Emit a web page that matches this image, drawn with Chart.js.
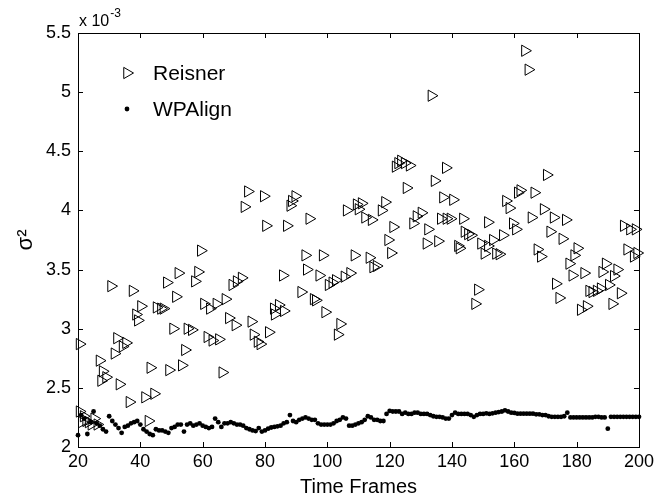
<!DOCTYPE html>
<html>
<head>
<meta charset="utf-8">
<script src="https://cdn.jsdelivr.net/npm/chart.js@4.4.1/dist/chart.umd.min.js"></script>
<style>
  html, body { margin: 0; padding: 0; background: #fff; }
  #wrap { width: 658px; height: 495px; }
</style>
</head>
<body>
<div id="wrap"><canvas id="chart" width="658" height="495"></canvas></div>
<script>
// Reisner variance per frame (units of 1e-3)
const reisnerX = [
  20.5, 20.5, 21.2, 21.8, 22.6, 23.4, 24.3, 25.2, 26.2, 26.9,
  27.4, 27.9, 29.0, 30.6, 31.7, 32.5, 33.3, 34.3, 35.4, 36.5,
  37.5, 38.6, 39.2, 40.2, 41.5, 42.6, 43.2, 44.4, 45.2, 46.6,
  47.4, 48.5, 49.2, 50.5, 51.4, 52.2, 53.3, 54.3, 55.1, 56.5,
  57.5, 58.5, 59.4, 60.4, 61.5, 62.3, 63.1, 64.4, 65.2, 66.3,
  67.3, 68.4, 69.5, 70.5, 70.9, 72.5, 73.4, 74.5, 75.6, 76.3,
  77.6, 78.5, 79.6, 80.3, 81.2, 82.8, 83.1, 84.4, 85.7, 86.0,
  87.0, 88.1, 88.6, 89.7, 91.6, 92.9, 93.4, 94.2, 95.6, 96.3,
  97.4, 98.5, 99.3, 100.4, 101.6, 102.7, 103.3, 104.1, 105.5, 106.2,
  107.3, 108.7, 109.4, 110.0, 111.0, 112.1, 113.5, 114.2, 114.7, 115.8,
  117.4, 118.5, 119.5, 120.4, 121.1, 121.9, 122.7, 123.6, 124.8, 125.4,
  126.4, 127.5, 128.6, 130.2, 131.8, 132.3, 133.4, 134.4, 135.5, 136.4,
  137.1, 138.0, 138.2, 139.5, 140.3, 141.9, 142.4, 143.5, 144.0, 145.1,
  146.1, 147.4, 148.3, 149.3, 150.4, 151.5, 151.5, 153.1, 154.1, 155.2,
  156.3, 157.3, 158.4, 159.5, 160.5, 161.1, 161.9, 163.4, 164.5, 165.5,
  166.4, 167.4, 168.5, 169.4, 170.4, 171.5, 172.6, 173.3, 174.4, 175.4,
  176.5, 177.6, 178.6, 179.2, 180.2, 181.3, 182.4, 183.2, 184.0, 185.0,
  186.4, 187.7, 188.2, 189.3, 190.3, 191.4, 191.9, 193.0, 194.1, 195.1,
  196.2, 197.1, 198.3, 198.9, 199.4
]
const reisnerY = [
  2.87, 2.30, 2.21, 2.26, 2.22, 2.21, 2.19, 2.24, 2.19, 2.73,
  2.56, 2.64, 2.59, 3.36, 2.79, 2.92, 2.53, 2.85, 2.88, 2.38,
  3.32, 3.12, 3.07, 3.19, 2.42, 2.22, 2.67, 2.45, 3.18, 3.17,
  3.17, 3.39, 2.65, 3.00, 3.27, 3.47, 2.69, 2.82, 3.00, 2.99,
  3.40, 3.48, 3.66, 3.21, 2.93, 3.17, 2.90, 3.21, 2.91, 2.63,
  3.25, 3.09, 3.37, 3.03, 3.40, 3.43, 4.03, 4.16, 3.06, 2.95,
  2.89, 2.87, 4.12, 3.87, 2.97, 3.17, 3.12, 3.20, 3.45, 3.15,
  3.87, 4.04, 4.08, 4.12, 3.31, 3.62, 3.50, 3.93, 3.25, 3.24,
  3.45, 3.62, 3.14, 3.37, 3.39, 3.41, 2.95, 3.04, 3.44, 4.00,
  3.47, 3.62, 4.05, 4.01, 4.06, 3.94, 3.60, 3.92, 3.52, 3.53,
  4.00, 4.07, 3.75, 3.64, 3.86, 4.37, 4.40, 4.42, 4.40, 4.19,
  4.38, 3.89, 3.95, 3.98, 3.72, 3.84, 4.97, 4.25, 3.74, 3.93,
  4.11, 4.36, 3.93, 3.93, 4.09, 3.70, 3.68, 3.93, 3.82, 3.80,
  3.79, 3.21, 3.33, 3.72, 3.635, 3.90, 3.70, 3.75, 3.635, 3.63,
  3.79, 4.08, 4.02, 3.89, 3.84, 4.15, 4.17, 5.35, 5.19, 3.94,
  4.15, 3.67, 3.61, 4.01, 4.30, 3.82, 3.94, 3.38, 3.26, 3.76,
  3.92, 3.55, 3.45, 3.62, 3.68, 3.16, 3.47, 3.19, 3.32, 3.31,
  3.32, 3.34, 3.48, 3.55, 3.37, 3.21, 3.445, 3.50, 3.30, 3.87,
  3.67, 3.84, 3.61, 3.84, 3.64
]

// WPAlign variance, one value per frame from 20 to 200
const firstFrame = 20
const wpAlignY = [
  2.10, 2.27, 2.24, 2.11, 2.21, 2.30, 2.20, 2.18, 2.15, 2.13,
  2.26, 2.22, 2.19, 2.16, 2.12, 2.17, 2.18, 2.20, 2.21, 2.22,
  2.19, 2.15, 2.13, 2.11, 2.10, 2.15, 2.14, 2.14, 2.13, 2.12,
  2.16, 2.17, 2.19, 2.19, 2.13, 2.19, 2.20, 2.18, 2.19, 2.20,
  2.18, 2.17, 2.16, 2.17, 2.24, 2.21, 2.17, 2.20, 2.20, 2.21,
  2.20, 2.19, 2.19, 2.18, 2.16, 2.15, 2.14, 2.135, 2.16, 2.13,
  2.14, 2.155, 2.165, 2.17, 2.175, 2.18, 2.20, 2.21, 2.27, 2.22,
  2.21, 2.23, 2.24, 2.25, 2.24, 2.23, 2.23, 2.20, 2.19, 2.19,
  2.19, 2.19, 2.20, 2.22, 2.23, 2.25, 2.24, 2.18, 2.18, 2.19,
  2.20, 2.21, 2.23, 2.26, 2.25, 2.23, 2.23, 2.22, 2.22, 2.28,
  2.305, 2.30, 2.30, 2.30, 2.28, 2.29, 2.28, 2.28, 2.29, 2.29,
  2.28, 2.28, 2.28, 2.27, 2.26, 2.255, 2.255, 2.25, 2.24, 2.24,
  2.27, 2.29, 2.28, 2.28, 2.28, 2.28, 2.27, 2.255, 2.27, 2.28,
  2.28, 2.285, 2.28, 2.285, 2.29, 2.295, 2.30, 2.31, 2.30, 2.29,
  2.288, 2.282, 2.282, 2.282, 2.282, 2.282, 2.282, 2.276, 2.276, 2.27,
  2.27, 2.26, 2.255, 2.255, 2.255, 2.255, 2.26, 2.29, 2.25, 2.25,
  2.25, 2.25, 2.25, 2.25, 2.25, 2.25, 2.255, 2.255, 2.25, 2.25,
  2.155, 2.255, 2.255, 2.255, 2.255, 2.255, 2.255, 2.255, 2.255, 2.255,
  2.255
]

const xTicks = [20, 40, 60, 80, 100, 120, 140, 160, 180, 200]
const yTicks = [2, 2.5, 3, 3.5, 4, 4.5, 5, 5.5]

const FONT = "'Liberation Sans', Arial, Helvetica, sans-serif"

const reisnerPts = reisnerX.map((x, i) => ({ x: x, y: reisnerY[i] }))
const wpPts = wpAlignY.map((y, i) => ({ x: firstFrame + i, y: y }))

// box, inward tick marks, exponent and legend (matlab look)
const matlabAxes = {
  id: "matlabAxes",
  afterDraw(chart) {
    const ctx = chart.ctx
    const a = chart.chartArea
    const xs = chart.scales.x
    const ys = chart.scales.y
    const tl = 5
    ctx.save()
    ctx.strokeStyle = "#000"
    ctx.lineWidth = 1
    ctx.strokeRect(Math.round(a.left) + 0.5, Math.round(a.top) + 0.5,
      Math.round(a.right - a.left), Math.round(a.bottom - a.top))
    ctx.beginPath()
    for (const v of xTicks) {
      const px = Math.round(xs.getPixelForValue(v)) + 0.5
      ctx.moveTo(px, a.bottom); ctx.lineTo(px, a.bottom - tl)
      ctx.moveTo(px, a.top); ctx.lineTo(px, a.top + tl)
    }
    for (const v of yTicks) {
      const py = Math.round(ys.getPixelForValue(v)) + 0.5
      ctx.moveTo(a.left, py); ctx.lineTo(a.left + tl, py)
      ctx.moveTo(a.right, py); ctx.lineTo(a.right - tl, py)
    }
    ctx.stroke()

    // exponent label
    ctx.fillStyle = "#000"
    ctx.textBaseline = "alphabetic"
    ctx.textAlign = "left"
    ctx.font = "16px " + FONT
    ctx.fillText("x 10", a.left + 1, 26)
    const w = ctx.measureText("x 10").width
    ctx.font = "12px " + FONT
    ctx.fillText("-3", a.left + 2 + w, 17)

    // legend
    const items = chart.data.datasets
    const lx = 127, ly = [73, 109]
    items.forEach((ds, i) => {
      ctx.save()
      ctx.strokeStyle = ds.borderColor
      ctx.fillStyle = ds.backgroundColor
      ctx.lineWidth = ds.borderWidth
      Chart.helpers.drawPoint(ctx, {
        pointStyle: ds.pointStyle,
        rotation: ds.pointRotation || 0,
        radius: ds.pointRadius,
        borderWidth: ds.borderWidth
      }, lx, ly[i])
      ctx.restore()
      ctx.fillStyle = "#000"
      ctx.font = "21px " + FONT
      ctx.textBaseline = "middle"
      ctx.fillText(ds.label, 153, ly[i] + 1)
    })
    ctx.restore()
  }
}

new Chart(document.getElementById("chart"), {
  type: "scatter",
  data: {
    datasets: [
      {
        label: "Reisner",
        data: reisnerPts,
        pointStyle: "triangle",
        pointRotation: 90,
        pointRadius: 6.5,
        pointHoverRadius: 6.5,
        borderWidth: 1,
        borderColor: "#000",
        backgroundColor: "rgba(0,0,0,0)",
        clip: false
      },
      {
        label: "WPAlign",
        data: wpPts,
        pointStyle: "circle",
        pointRadius: 2.4,
        pointHoverRadius: 2.4,
        borderWidth: 0,
        borderColor: "#000",
        backgroundColor: "#000",
        clip: false
      }
    ]
  },
  plugins: [matlabAxes],
  options: {
    responsive: false,
    animation: false,
    devicePixelRatio: 1,
    layout: { padding: { top: 33, right: 16, left: 0, bottom: 0 } },
    plugins: {
      legend: { display: false },
      tooltip: { enabled: false }
    },
    scales: {
      x: {
        type: "linear",
        min: 20,
        max: 200,
        afterFit: (s) => { s.height = 48 },
        afterBuildTicks: (s) => { s.ticks = xTicks.map(v => ({ value: v })) },
        grid: { display: false, drawTicks: false },
        border: { display: false },
        ticks: {
          color: "#000",
          padding: 4,
          maxRotation: 0,
          autoSkip: false,
          font: { family: FONT, size: 18 }
        },
        title: {
          display: true,
          text: "Time Frames",
          color: "#000",
          font: { family: FONT, size: 20, lineHeight: 1 },
          padding: { top: 0, bottom: -2 }
        }
      },
      y: {
        type: "linear",
        min: 2,
        max: 5.5,
        afterFit: (s) => { s.width = 78 },
        afterBuildTicks: (s) => { s.ticks = yTicks.map(v => ({ value: v })) },
        grid: { display: false, drawTicks: false },
        border: { display: false },
        ticks: {
          color: "#000",
          padding: 7,
          font: { family: FONT, size: 18 },
          callback: (v) => String(v)
        },
        title: {
          display: true,
          text: "σ²",
          color: "#000",
          font: { family: FONT, size: 22, lineHeight: 1 },
          padding: { top: 15, bottom: 0 }
        }
      }
    }
  }
})
</script>
</body>
</html>
